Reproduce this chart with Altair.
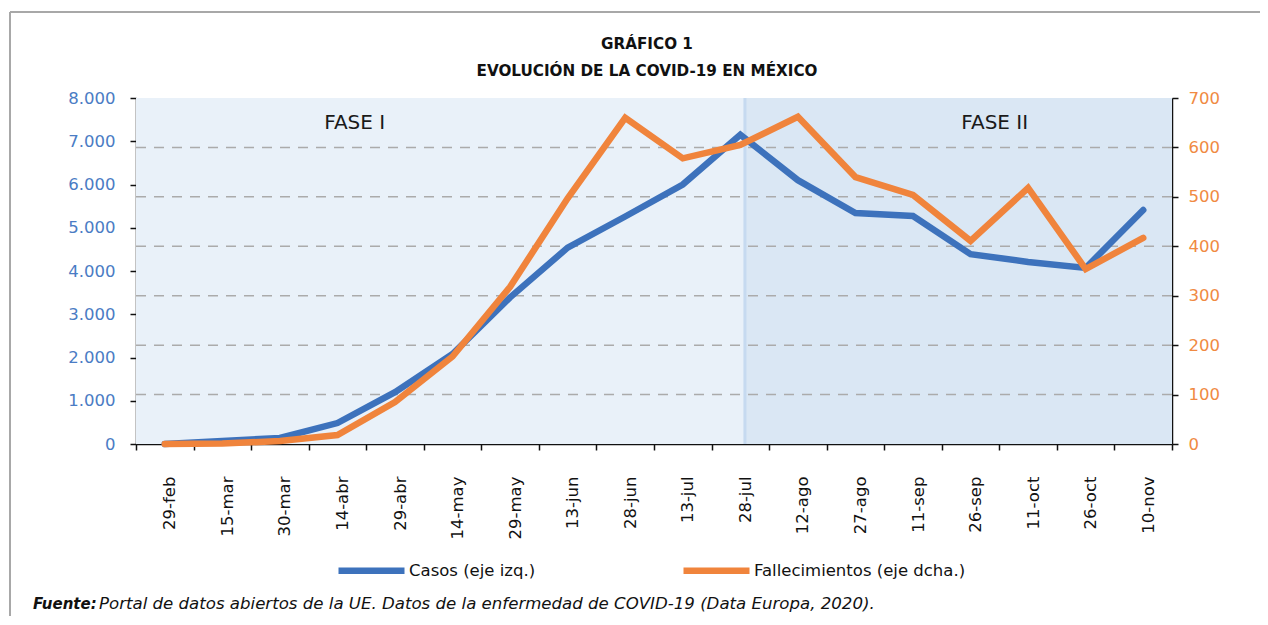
import altair as alt
import pandas as pd

# ---------------- data ----------------
fechas = ["29-feb", "15-mar", "30-mar", "14-abr", "29-abr", "14-may", "29-may",
          "13-jun", "28-jun", "13-jul", "28-jul", "12-ago", "27-ago", "11-sep",
          "26-sep", "11-oct", "26-oct", "10-nov"]
casos = [0, 70, 140, 485, 1200, 2080, 3390, 4540, 5260, 6000, 7150,
         6100, 5340, 5270, 4390, 4210, 4070, 5410]
fallecimientos = [0, 1, 6, 18, 85, 177, 318, 497, 660, 578, 605,
                  662, 540, 504, 411, 518, 354, 417]

series = ["Casos (eje izq.)", "Fallecimientos (eje dcha.)"]
fases = ["FASE I", "FASE II"]
fase_inicio = [-0.5, 10.08]
fase_fin = [10.08, 17.5]
fase_pos_etiqueta = [3.3, 14.42]

casos_ticks = [0, 1000, 2000, 3000, 4000, 5000, 6000, 7000, 8000]
fall_ticks = [0, 100, 200, 300, 400, 500, 600, 700]
grid_vals = [100, 200, 300, 400, 500, 600]

titulo = "GRÁFICO 1"
subtitulo = "EVOLUCIÓN DE LA COVID-19 EN MÉXICO"
fuente_neg = "Fuente:"
fuente_txt = "Portal de datos abiertos de la UE. Datos de la enfermedad de COVID-19 (Data Europa, 2020)."

# ---------------- styles ----------------
W, H = 1036, 346
BLUE = "#3D72BC"
ORANGE = "#F0843C"
FONT = "DejaVu Sans"

df = pd.DataFrame({"idx": list(range(len(fechas))), "fecha": fechas,
                   "casos": casos, "fall": fallecimientos})
df_fases = pd.DataFrame({"fase": fases, "inicio": fase_inicio, "fin": fase_fin,
                         "pos": fase_pos_etiqueta})
df_grid = pd.DataFrame({"v": grid_vals})
df_one = pd.DataFrame({"a": [0]})

xscale = alt.Scale(domain=[-0.5, 17.5], nice=False, zero=False)
half_vals = [i / 2 - 0.5 for i in range(0, 37)]
label_js = "[" + ",".join("'" + f + "'" for f in fechas) + "]"
xaxis = alt.Axis(
    values=half_vals,
    labelExpr="datum.value % 1 === 0 ? " + label_js + "[datum.value] : ''",
    labelAngle=270, labelFont=FONT, labelFontSize=16.5, labelColor="#111",
    labelPadding=26, labelOffset=5, labelOverlap=False, labelBound=False,
    labelFlush=False, tickSize=6, tickColor="#111", tickWidth=1.5,
    tickOpacity={"condition": {"test": "datum.value % 1 !== 0", "value": 1}, "value": 0},
    domainColor="#111", domainWidth=1.5, grid=False, title=None,
)

def xenc(field):
    return alt.X(field, type="quantitative", scale=xscale, axis=xaxis)

base_f = alt.Chart(df_fases)

rect1 = base_f.mark_rect(color="#E9F1F9").encode(
    x=xenc("inicio"), x2="fin", y=alt.value(0), y2=alt.value(H)
).transform_filter(alt.datum.fase == fases[0])
rect2 = base_f.mark_rect(color="#DAE7F4").encode(
    x=xenc("inicio"), x2="fin", y=alt.value(0), y2=alt.value(H)
).transform_filter(alt.datum.fase == fases[1])
frontera = base_f.mark_rule(color="#C6DAF0", strokeWidth=3).encode(
    x=xenc("inicio"), y=alt.value(0), y2=alt.value(H)
).transform_filter(alt.datum.fase == fases[1])
etiquetas_fase = base_f.mark_text(font=FONT, fontSize=20, color="#1a1a1a",
                                  baseline="middle", align="center").encode(
    x=xenc("pos"), y=alt.value(25), text="fase:N"
)

grid = alt.Chart(df_grid).mark_rule(color="#ABABAB", strokeWidth=1.5,
                                    strokeDash=[10, 8]).encode(
    y=alt.Y("v:Q", scale=alt.Scale(domain=[0, 700], nice=False), axis=None),
    x=alt.value(0), x2=alt.value(W)
)

color_scale = alt.Scale(domain=series, range=[BLUE, ORANGE])
legend = alt.Legend(
    orient="none", legendX=199, legendY=436, direction="horizontal", title=None,
    symbolType="stroke", symbolStrokeWidth=6.5, symbolSize=4356,
    labelFont=FONT, labelFontSize=16.5, labelColor="#111", labelOffset=1,
    labelLimit=400, columnPadding=134,
)

line_casos = alt.Chart(df).transform_calculate(serie=f"'{series[0]}'").mark_line(
    strokeWidth=6.5, strokeCap="round").encode(
    x=xenc("idx"),
    y=alt.Y("casos:Q", scale=alt.Scale(domain=[0, 8000], nice=False),
            axis=alt.Axis(orient="left", values=casos_ticks,
                          labelExpr="replace(format(datum.value, ','), ',', '.')",
                          labelColor="#4A7CC4", labelFont=FONT, labelFontSize=16.5,
                          labelPadding=15, tickSize=6, tickColor="#111", tickWidth=1.5,
                          domainColor="#111", domainWidth=1.5, grid=False, title=None)),
    color=alt.Color("serie:N", scale=color_scale, legend=legend),
)

line_fall = alt.Chart(df).transform_calculate(serie=f"'{series[1]}'").mark_line(
    strokeWidth=6.5, strokeCap="round").encode(
    x=xenc("idx"),
    y=alt.Y("fall:Q", scale=alt.Scale(domain=[0, 700], nice=False),
            axis=alt.Axis(orient="right", values=fall_ticks,
                          labelColor="#F08A42", labelFont=FONT, labelFontSize=16.5,
                          labelPadding=10, tickSize=6, tickColor="#111", tickWidth=1.5,
                          domainColor="#111", domainWidth=1.5, grid=False, title=None)),
    color=alt.Color("serie:N", scale=color_scale, legend=legend),
)

t1 = alt.Chart(df_one).mark_text(text=titulo, font=FONT, fontSize=15.2, fontWeight="bold",
                                 color="#111", align="center", baseline="middle").encode(
    x=alt.value(511), y=alt.value(-54))
t2 = alt.Chart(df_one).mark_text(text=subtitulo, font=FONT, fontSize=15.2, fontWeight="bold",
                                 color="#111", align="center", baseline="middle").encode(
    x=alt.value(511), y=alt.value(-27))
f1 = alt.Chart(df_one).mark_text(text=fuente_neg, font=FONT, fontSize=15, fontWeight="bold",
                                 fontStyle="italic", color="#111", align="left",
                                 baseline="middle").encode(x=alt.value(-103), y=alt.value(506))
f2 = alt.Chart(df_one).mark_text(text=fuente_txt, font=FONT, fontSize=16.6,
                                 fontStyle="italic", color="#111", align="left",
                                 baseline="middle").encode(x=alt.value(-37), y=alt.value(506))

marco_izq = alt.Chart(df_one).mark_rule(color="#A8A8A8", strokeWidth=2).encode(
    x=alt.value(-126), x2=alt.value(-126), y=alt.value(-86), y2=alt.value(560))
marco_sup = alt.Chart(df_one).mark_rule(color="#A8A8A8", strokeWidth=2).encode(
    x=alt.value(-126), x2=alt.value(1200), y=alt.value(-86), y2=alt.value(-86))

chart = alt.layer(
    rect1, rect2, frontera, grid, etiquetas_fase, line_casos, line_fall,
    t1, t2, f1, f2, marco_izq, marco_sup
).resolve_scale(y="independent").properties(
    width=W, height=H,
    autosize=alt.AutoSizeParams(type="none"),
    padding={"left": 128, "top": 90, "right": 88, "bottom": 172},
).configure_view(stroke="#111", strokeWidth=1.5).configure(background="white")

chart.save("out.html", embed_options={"renderer": "svg", "actions": False})
